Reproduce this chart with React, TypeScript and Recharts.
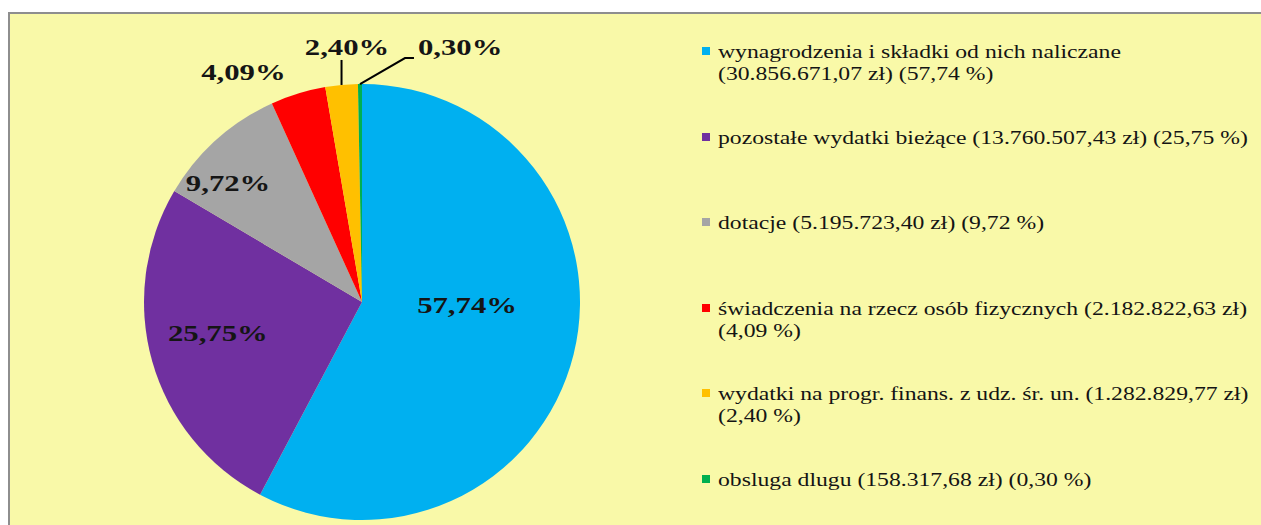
import React from 'react';
import { PieChart, Pie, Cell, Legend } from 'recharts';

const categories = [
  'wynagrodzenia i składki od nich naliczane',
  'pozostałe wydatki bieżące',
  'dotacje',
  'świadczenia na rzecz osób fizycznych',
  'wydatki na progr. finans. z udz. śr. un.',
  'obsluga dlugu',
];
const amounts = [30856671.07, 13760507.43, 5195723.4, 2182822.63, 1282829.77, 158317.68];
const amountLabels = ['30.856.671,07 zł', '13.760.507,43 zł', '5.195.723,40 zł', '2.182.822,63 zł', '1.282.829,77 zł', '158.317,68 zł'];
const percentLabels = ['57,74%', '25,75%', '9,72%', '4,09%', '2,40%', '0,30%'];
const legendPercentLabels = ['57,74 %', '25,75 %', '9,72 %', '4,09 %', '2,40 %', '0,30 %'];
// where each legend entry wraps (after the amount or after the name)
const legendWrap = ['name', 'none', 'none', 'amount', 'amount', 'none'];
const colors = ['#00B0F0', '#7030A0', '#A5A5A5', '#FF0000', '#FFC000', '#00B050'];

const data = categories.map((name, i) => ({ name, value: amounts[i] }));

const RAD = Math.PI / 180;
const FONT = '"Liberation Serif", "Times New Roman", serif';

// label placement: radius factor along the slice mid angle + nudge; optional leader line
const labelSpecs = [
  { r: 0.48, dx: 3.5, dy: -22 },
  { r: 0.68, dx: -1.5, dy: -10 },
  { r: 0.82, dx: -14.5, dy: 14 },
  { r: 1.15, dx: -45, dy: 9 },
  { r: 1.0, dx: 5.5, dy: -38.5, line: [[0, 0], [0, -25]] },
  { r: 1.0, dx: 58, dy: -37.5, anchor: 'start', line: [[0, 0], [45, -26], [54, -26]] },
];

const renderLabel = (props: any) => {
  const { cx, cy, midAngle, outerRadius, index } = props;
  const s: any = labelSpecs[index];
  const r = outerRadius * s.r;
  const px = cx + r * Math.cos(-midAngle * RAD);
  const py = cy + r * Math.sin(-midAngle * RAD);
  const x = px + s.dx;
  const y = py + s.dy;
  return (
    <g key={`lbl-${index}`}>
      {s.line && (
        <polyline
          points={s.line.map((p: number[]) => `${px + p[0]},${py + p[1]}`).join(' ')}
          fill="none"
          stroke="#000"
          strokeWidth={2}
        />
      )}
      <text
        x={0}
        y={0}
        transform={`translate(${x} ${y}) scale(1.28 1)`}
        textAnchor={s.anchor || 'middle'}
        dominantBaseline="central"
        fontFamily={FONT}
        fontWeight="bold"
        fontSize={24}
        fill="#151515"
      >
        {percentLabels[index]}
      </text>
    </g>
  );
};

const LegendBody = () => (
  <div style={{ position: 'relative', width: 568 }}>
    {categories.map((name, i) => {
      const amt = `(${amountLabels[i]})`;
      const pct = `(${legendPercentLabels[i]})`;
      let lines: string[];
      if (legendWrap[i] === 'name') lines = [name, `${amt} ${pct}`];
      else if (legendWrap[i] === 'amount') lines = [`${name} ${amt}`, pct];
      else lines = [`${name} ${amt} ${pct}`];
      return (
        <div key={name} style={{ position: 'relative', height: 85.6 }}>
          <div
            style={{
              position: 'absolute',
              left: 0,
              top: 6,
              width: 8,
              height: 8,
              background: colors[i],
            }}
          />
          <div style={{ position: 'absolute', left: 16, top: 0 }}>
            {lines.map((ln, k) => (
              <div
                key={k}
                style={{
                  fontFamily: FONT,
                  fontSize: 18,
                  lineHeight: '22px',
                  color: '#141414',
                  whiteSpace: 'nowrap',
                  transform: 'scaleX(1.315)',
                  transformOrigin: 'left center',
                }}
              >
                {ln}
              </div>
            ))}
          </div>
        </div>
      );
    })}
  </div>
);

export default function App() {
  return (
    <div
      style={{
        position: 'fixed',
        left: 8,
        top: 12,
        width: 1260,
        height: 520,
        border: '2px solid #8E8E8E',
        background: '#F9F9A8',
      }}
    >
      <PieChart width={1260} height={520} margin={{ top: 0, right: 0, bottom: 0, left: 0 }}>
        <Pie
          data={data}
          dataKey="value"
          nameKey="name"
          cx={352}
          cy={288}
          outerRadius={218}
          startAngle={90}
          endAngle={-270}
          stroke="none"
          label={renderLabel}
          labelLine={false}
          isAnimationActive={false}
        >
          {data.map((d, i) => (
            <Cell key={d.name} fill={colors[i]} stroke="none" />
          ))}
        </Pie>
        <Legend
          layout="vertical"
          align="right"
          verticalAlign="top"
          wrapperStyle={{ left: 692, top: 27, width: 568, right: 'auto' }}
          content={() => <LegendBody />}
        />
      </PieChart>
    </div>
  );
}
